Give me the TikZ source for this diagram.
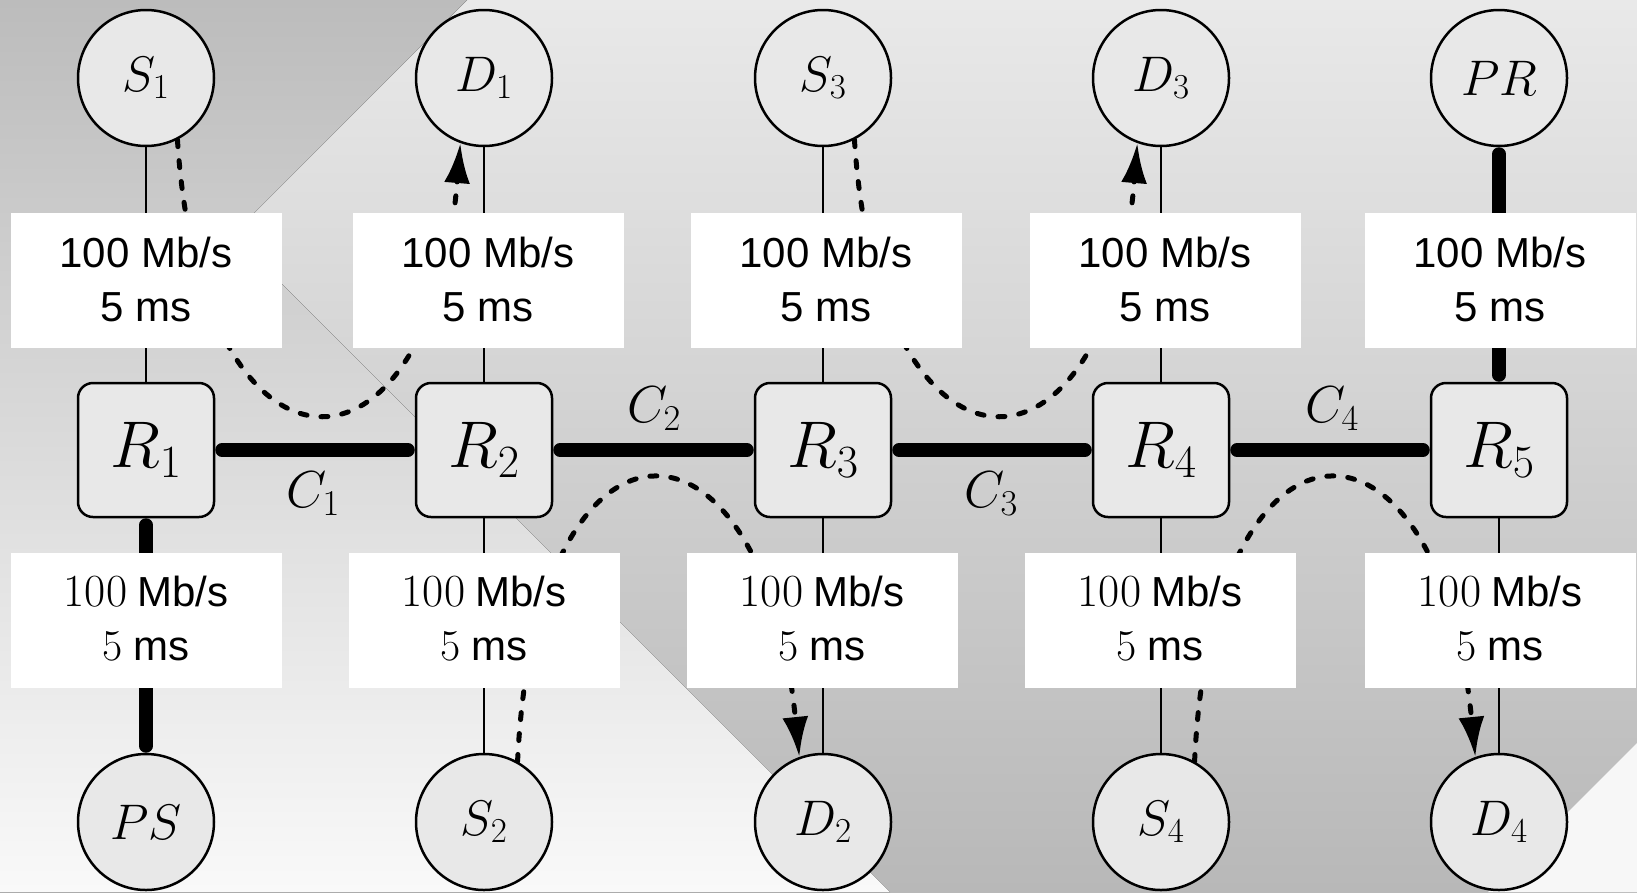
\RequirePackage{fix-cm}
\documentclass[tikz,border=0pt]{standalone}
\usepackage{fontspec}
\newfontfamily\lsans{Liberation Sans}
\usetikzlibrary{arrows.meta}
\definecolor{nodefill}{HTML}{E8E8E8}
\definecolor{ltop}{HTML}{BCBCBC}
\definecolor{lbot}{HTML}{F9F9F9}
\definecolor{rtop}{HTML}{E9E9E9}
\definecolor{rbot}{HTML}{B8B8B8}
\definecolor{brfill}{HTML}{F7F7F7}
\newcommand\toplabel{{\lsans 100 Mb/s}\\{\lsans 5 ms}}
\newcommand\botlabel{{\fontsize{46}{54}\selectfont 100}\hspace{10pt}{\lsans Mb/s}\\{\fontsize{44}{54}\selectfont 5}\hspace{11pt}{\lsans ms}}
\pgfdeclarelayer{bgl}
\pgfdeclarelayer{linkl}
\pgfsetlayers{bgl,linkl,main}
\begin{document}
\begin{tikzpicture}[x=1pt,y=-1pt,
  host/.style={circle, draw, line width=2.5pt, fill=nodefill, minimum size=136pt, inner sep=0pt, font=\fontsize{50}{60}\selectfont},
  router/.style={rectangle, rounded corners=15pt, draw, line width=2.5pt, fill=nodefill, minimum width=136pt, minimum height=134pt, inner sep=0pt, font=\fontsize{66}{72}\selectfont},
  linkbox/.style={fill=white, minimum width=271pt, minimum height=135pt, inner sep=0pt},
  toptext/.style={inner sep=0pt, align=center, font=\fontsize{42}{54}\selectfont},
  bottext/.style={inner sep=0pt, align=center, font=\fontsize{42}{54}\selectfont},
  thinlink/.style={line width=2pt},
  thicklink/.style={line width=13.5pt, line cap=round, shorten <=6.75pt, shorten >=6.75pt},
  flow/.style={line width=5pt, dash pattern=on 7pt off 14pt, line cap=round},
  flowtip/.style={-{Latex[length=40pt,width=26pt]}},
  clabel/.style={font=\fontsize{52}{60}\selectfont, inner sep=0pt}
]
\useasboundingbox (0,0) rectangle (1637,892);

% background
\begin{pgfonlayer}{bgl}
  \fill[top color=rtop, bottom color=rbot] (0,0) rectangle (1637,892);
  \fill[top color=ltop, bottom color=lbot] (0,0) -- (467,0) -- (232.5,234.5) -- (890,892) -- (0,892) -- cycle;
  \fill[brfill] (1488,892) -- (1637,743) -- (1637,892) -- cycle;
\end{pgfonlayer}

% hosts, top row
\node[host] (S1) at (146,78) {$S_1$};
\node[host] (D1) at (484,78) {$D_1$};
\node[host] (S3) at (823,78) {$S_3$};
\node[host] (D3) at (1161,78) {$D_3$};
\node[host] (PR) at (1499,78) {$PR$};
% routers
\node[router] (R1) at (146,450) {$R_1$};
\node[router] (R2) at (484,450) {$R_2$};
\node[router] (R3) at (823,450) {$R_3$};
\node[router] (R4) at (1161,450) {$R_4$};
\node[router] (R5) at (1499,450) {$R_5$};
% hosts, bottom row
\node[host] (PS) at (146,822) {$PS$};
\node[host] (S2) at (484,822) {$S_2$};
\node[host] (D2) at (823,822) {$D_2$};
\node[host] (S4) at (1161,822) {$S_4$};
\node[host] (D4) at (1499,822) {$D_4$};

% link parameter boxes
\node[linkbox] (L1) at (146,280.5) {};
\node[linkbox] (L2) at (488,280.5) {};
\node[linkbox] (L3) at (826,280.5) {};
\node[linkbox] (L4) at (1165,280.5) {};
\node[linkbox] (L5) at (1500,280.5) {};
\node[linkbox] (L6) at (146,620) {};
\node[linkbox] (L7) at (484,620) {};
\node[linkbox] (L8) at (822,620) {};
\node[linkbox] (L9) at (1160,620) {};
\node[linkbox] (L10) at (1500,620) {};
\foreach \b in {L1,L2,L3,L4,L5}
  \node[toptext] (\b t) at ([yshift=1.5pt]\b.center) {\toplabel};
\foreach \b in {L6,L7,L8,L9,L10}
  \node[bottext] (\b t) at ([yshift=1.5pt]\b.center) {\botlabel};

% bottleneck labels
\node[clabel] (C1) at (313,494) {$C_1$};
\node[clabel] (C2) at (654,409) {$C_2$};
\node[clabel] (C3) at (991,494) {$C_3$};
\node[clabel] (C4) at (1332,409) {$C_4$};

\begin{pgfonlayer}{linkl}
  % access links
  \draw[thinlink] (S1) -- (R1);
  \draw[thinlink] (D1) -- (R2);
  \draw[thinlink] (S3) -- (R3);
  \draw[thinlink] (D3) -- (R4);
  \draw[thinlink] (R2) -- (S2);
  \draw[thinlink] (R3) -- (D2);
  \draw[thinlink] (R4) -- (S4);
  \draw[thinlink] (R5) -- (D4);
  \draw[thicklink] (R1) -- (PS);
  \draw[thicklink] (PR) -- (R5);
  % core links
  \draw[thicklink] (R1) -- (R2);
  \draw[thicklink] (R2) -- (R3);
  \draw[thicklink] (R3) -- (R4);
  \draw[thicklink] (R4) -- (R5);
  % flows
  \draw[flow, flowtip] (S1.297) .. controls (201,502) and (431,502) .. (D1.250);
  \draw[flow, flowtip] (S3.297) .. controls (878,502) and (1108,502) .. (D3.250);
  \draw[flow, flowtip] (S2.61) .. controls (535,388) and (762,388) .. (D2.110);
  \draw[flow, flowtip] (S4.61) .. controls (1212,388) and (1439,388) .. (D4.110);
\end{pgfonlayer}
\end{tikzpicture}
\end{document}
